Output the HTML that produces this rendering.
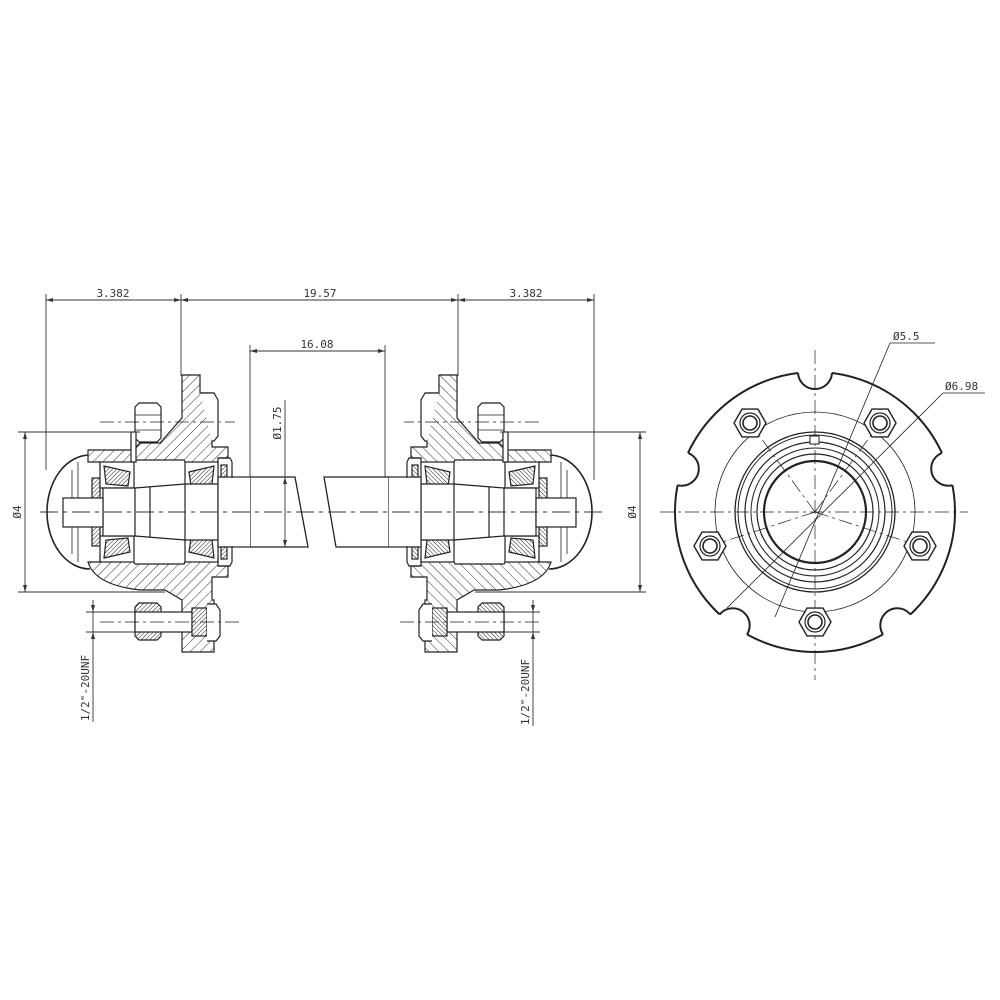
<!DOCTYPE html>
<html><head><meta charset="utf-8"><style>
html,body{margin:0;padding:0;background:#fff}
svg{display:block}
text{font-family:"DejaVu Sans Mono","Liberation Mono",monospace;font-size:11px;fill:#333}
</style></head><body>
<svg width="1000" height="1000" viewBox="0 0 1000 1000" xmlns="http://www.w3.org/2000/svg">
<defs>
<pattern id="h" patternUnits="userSpaceOnUse" width="7" height="7" patternTransform="rotate(45)">
<rect width="7" height="7" fill="#fff"/><line x1="0" y1="0" x2="0" y2="7" stroke="#333" stroke-width="1"/>
</pattern>
<pattern id="hd" patternUnits="userSpaceOnUse" width="3" height="3" patternTransform="rotate(45)">
<rect width="3" height="3" fill="#fff"/><line x1="0" y1="0" x2="0" y2="3" stroke="#222" stroke-width="1"/>
</pattern>
<clipPath id="oc"><circle cx="815" cy="512" r="140"/></clipPath>
<g id="hub" stroke="#222" stroke-width="1.2" fill="none">
  <!-- cap dome -->
  <path d="M90,455 A43,57 0 0 0 90,569" stroke-width="1.6"/>
  <line x1="72" y1="470" x2="72" y2="554" stroke-width="0.8"/>
  <line x1="78" y1="462" x2="78" y2="562" stroke-width="0.8"/>
  <!-- upper hub -->
  <path fill="url(#h)" d="M88,450 L133,450 L140,443 L160,443 L182,418 L182,375 L200,375 L200,393 L212,393 L212,447 L228,447 L228,458 L218,458 L218,468 L188,468 L184,460 L135,460 L130,468 L100,468 L100,462 L88,462 Z"/>
  <!-- lower hub -->
  <path fill="url(#h)" d="M88,562 L100,562 L100,556 L130,556 L135,564 L184,564 L188,556 L218,556 L218,566 L228,566 L228,577 L212,577 L212,600 L214,600 L214,652 L182,652 L182,600 L165,590 L140,590 Q95,585 88,562 Z"/>
  <!-- washer -->
  <rect x="92" y="478" width="8" height="68" fill="url(#hd)"/>
  <!-- bearings -->
  <rect x="100" y="462" width="34" height="26" fill="#fff"/>
  <path d="M104,466 L130,472 L128,486 L106,484 Z" fill="url(#hd)"/>
  <rect x="185" y="462" width="33" height="26" fill="#fff"/>
  <path d="M189,472 L214,466 L212,484 L191,486 Z" fill="url(#hd)"/>
  <rect x="100" y="536" width="34" height="26" fill="#fff"/>
  <path d="M104,558 L130,552 L128,538 L106,540 Z" fill="url(#hd)"/>
  <rect x="185" y="536" width="33" height="26" fill="#fff"/>
  <path d="M189,552 L214,558 L212,540 L191,538 Z" fill="url(#hd)"/>
  <!-- spindle -->
  <path d="M103,488 L135,488 L185,484 L218,484 L218,540 L185,540 L135,536 L103,536 Z" fill="#fff"/>
  <line x1="135" y1="488" x2="135" y2="536"/><line x1="150" y1="487" x2="150" y2="537"/><line x1="185" y1="484" x2="185" y2="540"/>
  <rect x="63" y="498" width="40" height="29" fill="#fff"/>
  <rect x="218" y="477" width="33" height="70" fill="#fff"/>
  <!-- seal -->
  <path d="M218,458 L230,458 L232,462 L232,478" /><path d="M218,566 L230,566 L232,562 L232,546"/>
  <rect x="221" y="465" width="6" height="12" fill="url(#hd)"/><rect x="221" y="547" width="6" height="12" fill="url(#hd)"/>
  <!-- upper stud -->
  <path d="M135,407 L139,403 L157,403 L161,407 L161,438 L157,442 L139,442 L135,438 Z" fill="#fff"/>
  <line x1="135" y1="415" x2="161" y2="415" stroke-width="0.7"/><line x1="135" y1="430" x2="161" y2="430" stroke-width="0.7"/>
  <path d="M200,393 L214,393 L218,400 L218,436 L214,441 L212,441" fill="#fff"/>
  <rect x="131" y="432" width="5" height="30" fill="#fff"/>
  <!-- lower stud -->
  <path d="M135,607 L139,603 L157,603 L161,607 L161,636 L157,640 L139,640 L135,636 Z" fill="url(#hd)"/>
  <rect x="135" y="612" width="57" height="20" fill="#fff"/>
  <rect x="192" y="608" width="15" height="28" fill="url(#hd)"/>
  <path d="M207,604 L216,604 L220,610 L220,636 L216,641 L207,641" fill="#fff"/>
  <!-- centerlines -->
  <line x1="100" y1="422" x2="235" y2="422" stroke-width="0.8" stroke-dasharray="14,4,3,4"/>
  <line x1="100" y1="622" x2="240" y2="622" stroke-width="0.8" stroke-dasharray="14,4,3,4"/>
</g>
<g id="nut">
  <polygon points="16,0 8,13.9 -8,13.9 -16,0 -8,-13.9 8,-13.9" fill="#fff" stroke="#222" stroke-width="1.4"/>
  <circle r="10" fill="none" stroke="#222" stroke-width="1.2"/>
  <circle r="7" fill="none" stroke="#222" stroke-width="1.6"/>
</g>
</defs>

<!-- hubs -->
<use href="#hub"/>
<use href="#hub" transform="translate(639,0) scale(-1,1)"/>
<!-- shafts -->
<path d="M251,477 L295,477 L308,547 L251,547" fill="#fff" stroke="#222" stroke-width="1.3"/>
<path d="M388,477 L324,477 L336,547 L388,547" fill="#fff" stroke="#222" stroke-width="1.3"/>

<!-- centerline main -->
<line x1="40" y1="512" x2="605" y2="512" stroke="#333" stroke-width="0.9" stroke-dasharray="18,5,4,5"/>

<!-- dims top -->
<g stroke="#333" stroke-width="0.9" fill="none">
<line x1="46" y1="300" x2="594" y2="300"/>
<line x1="46" y1="294" x2="46" y2="470"/>
<line x1="181" y1="294" x2="181" y2="376"/>
<line x1="458" y1="294" x2="458" y2="376"/>
<line x1="594" y1="294" x2="594" y2="480"/>
<line x1="250" y1="351" x2="385" y2="351"/>
<line x1="250" y1="345" x2="250" y2="477"/>
<line x1="385" y1="345" x2="385" y2="477"/>
<line x1="285" y1="400" x2="285" y2="547"/>
<!-- phi4 left -->
<line x1="18" y1="432" x2="140" y2="432"/>
<line x1="18" y1="592" x2="165" y2="592"/>
<line x1="25" y1="432" x2="25" y2="592"/>
<line x1="500" y1="432" x2="646" y2="432"/>
<line x1="475" y1="592" x2="646" y2="592"/>
<line x1="640" y1="432" x2="640" y2="592"/>
<!-- unf -->
<line x1="86" y1="612" x2="135" y2="612"/><line x1="86" y1="632" x2="135" y2="632"/>
<line x1="93" y1="600" x2="93" y2="722"/>
<line x1="504" y1="612" x2="540" y2="612"/><line x1="504" y1="632" x2="540" y2="632"/>
<line x1="533" y1="600" x2="533" y2="726"/>
</g>
<g fill="#333">
<path d="M46,300 l7,-2 v4z"/><path d="M181,300 l-7,-2 v4z"/><path d="M181,300 l7,-2 v4z"/><path d="M458,300 l-7,-2 v4z"/><path d="M458,300 l7,-2 v4z"/><path d="M594,300 l-7,-2 v4z"/>
<path d="M250,351 l7,-2 v4z"/><path d="M385,351 l-7,-2 v4z"/>
<path d="M285,477 l-2,7 h4z"/><path d="M285,547 l-2,-7 h4z"/>
<path d="M25,432 l-2,7 h4z"/><path d="M25,592 l-2,-7 h4z"/>
<path d="M640,432 l-2,7 h4z"/><path d="M640,592 l-2,-7 h4z"/>
<path d="M93,612 l-2,-7 h4z"/><path d="M93,632 l-2,7 h4z"/>
<path d="M533,612 l-2,-7 h4z"/><path d="M533,632 l-2,7 h4z"/>
</g>
<text x="113" y="297" text-anchor="middle">3.382</text>
<text x="320" y="297" text-anchor="middle">19.57</text>
<text x="526" y="297" text-anchor="middle">3.382</text>
<text x="317" y="348" text-anchor="middle">16.08</text>
<text transform="translate(281,423) rotate(-90)" text-anchor="middle">Ø1.75</text>
<text transform="translate(21,512) rotate(-90)" text-anchor="middle">Ø4</text>
<text transform="translate(636,512) rotate(-90)" text-anchor="middle">Ø4</text>
<text transform="translate(89,688) rotate(-90)" text-anchor="middle">1/2"-20UNF</text>
<text transform="translate(529,692) rotate(-90)" text-anchor="middle">1/2"-20UNF</text>

<!-- flange view -->
<g stroke="#222" fill="none">
<circle cx="815" cy="512" r="140" stroke-width="2"/>
<g fill="#fff" stroke="none">
<circle cx="815" cy="372" r="17"/><circle cx="948.2" cy="468.7" r="17"/><circle cx="897.3" cy="625.3" r="17"/><circle cx="732.7" cy="625.3" r="17"/><circle cx="681.8" cy="468.7" r="17"/>
</g>
<g clip-path="url(#oc)" stroke-width="2">
<circle cx="815" cy="372" r="17"/><circle cx="948.2" cy="468.7" r="17"/><circle cx="897.3" cy="625.3" r="17"/><circle cx="732.7" cy="625.3" r="17"/><circle cx="681.8" cy="468.7" r="17"/>
</g>
<circle cx="815" cy="512" r="100" stroke-width="0.8"/>
<g stroke-width="0.7" stroke-dasharray="14,4,3,4">
<line x1="660" y1="512" x2="968" y2="512"/>
<line x1="815" y1="350" x2="815" y2="680"/>
<line x1="815" y1="512" x2="750" y2="423"/><line x1="815" y1="512" x2="880" y2="423"/>
<line x1="815" y1="512" x2="710" y2="546"/><line x1="815" y1="512" x2="920" y2="546"/>
</g>
<circle cx="815" cy="512" r="80" stroke-width="1.3"/>
<circle cx="815" cy="512" r="77" stroke-width="1"/>
<circle cx="815" cy="512" r="70" stroke-width="1.2"/>
<circle cx="815" cy="512" r="64" stroke-width="1"/>
<circle cx="815" cy="512" r="58" stroke-width="1.2"/>
<circle cx="815" cy="512" r="51" stroke-width="2.2"/>
<rect x="810" y="436" width="9" height="8" stroke-width="1" fill="#fff"/>
<line x1="775" y1="617" x2="890" y2="343" stroke-width="0.8"/>
<line x1="890" y1="343" x2="935" y2="343" stroke-width="0.8"/>
<line x1="727" y1="608" x2="943" y2="393" stroke-width="0.8"/>
<line x1="943" y1="393" x2="985" y2="393" stroke-width="0.8"/>
</g>
<use href="#nut" x="815" y="622"/>
<use href="#nut" x="710" y="546"/>
<use href="#nut" x="920" y="546"/>
<use href="#nut" x="750" y="423"/>
<use href="#nut" x="880" y="423"/>
<text x="893" y="340">Ø5.5</text>
<text x="945" y="390">Ø6.98</text>
</svg>
</body></html>
